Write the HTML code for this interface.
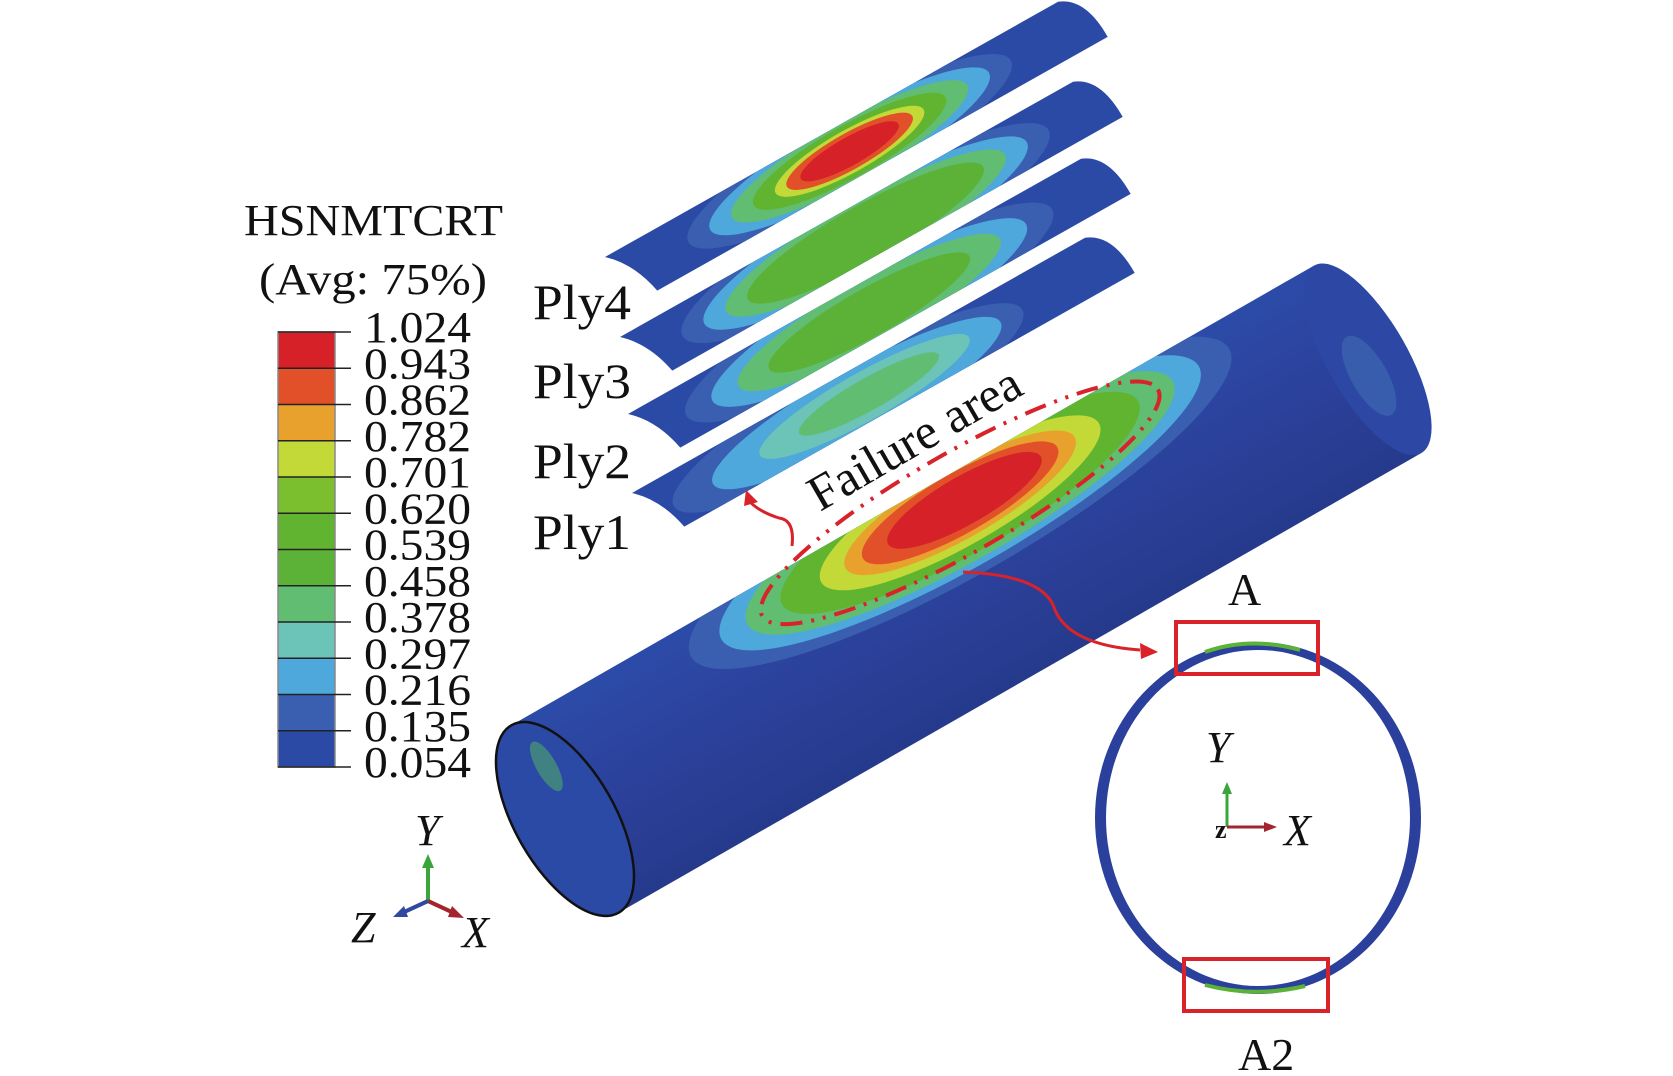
<!DOCTYPE html>
<html><head><meta charset="utf-8"><style>
html,body{margin:0;padding:0;background:#fff;}
svg{display:block;}
text{font-family:"Liberation Serif","Times New Roman",serif;fill:#111;}
</style></head><body>
<svg width="1673" height="1076" viewBox="0 0 1673 1076" xmlns="http://www.w3.org/2000/svg">
<defs>
<linearGradient id="tg" x1="0" y1="0" x2="0" y2="1">
<stop offset="0" stop-color="#2c4ba8"/><stop offset="0.6" stop-color="#2b3f98"/><stop offset="1" stop-color="#263a8c"/>
</linearGradient>
<path id="ply" d="M0,0 L520,0 Q546,10 546,55 L29,55 Q22,20 0,0 Z"/>
<clipPath id="pc"><use href="#ply"/></clipPath>
<clipPath id="tc"><rect x="0" y="-108" width="925" height="216"/></clipPath>
</defs>

<text x="244" y="235" font-size="44" textLength="259" lengthAdjust="spacingAndGlyphs">HSNMTCRT</text>
<text x="259" y="294" font-size="44" textLength="228" lengthAdjust="spacingAndGlyphs">(Avg: 75%)</text>
<g>
<rect x="278" y="332" width="57" height="36.25" fill="#d52127"/>
<rect x="278" y="368.25" width="57" height="36.25" fill="#e2502a"/>
<rect x="278" y="404.5" width="57" height="36.25" fill="#e8a12c"/>
<rect x="278" y="440.75" width="57" height="36.25" fill="#c2d938"/>
<rect x="278" y="477" width="57" height="36.25" fill="#7bbf2e"/>
<rect x="278" y="513.25" width="57" height="36.25" fill="#61b42f"/>
<rect x="278" y="549.5" width="57" height="36.25" fill="#5cb236"/>
<rect x="278" y="585.75" width="57" height="36.25" fill="#61bd71"/>
<rect x="278" y="622" width="57" height="36.25" fill="#6cc3b7"/>
<rect x="278" y="658.25" width="57" height="36.25" fill="#4ea8dc"/>
<rect x="278" y="694.5" width="57" height="36.25" fill="#3a5fb0"/>
<rect x="278" y="730.75" width="57" height="36.25" fill="#2b4aa5"/>
<rect x="278" y="332" width="57" height="435" fill="none" stroke="#888" stroke-width="1.5"/>
<g stroke="#222" stroke-width="1.5">
<line x1="278" y1="332" x2="351" y2="332"/><line x1="278" y1="368.25" x2="351" y2="368.25"/><line x1="278" y1="404.5" x2="351" y2="404.5"/><line x1="278" y1="440.75" x2="351" y2="440.75"/><line x1="278" y1="477" x2="351" y2="477"/><line x1="278" y1="513.25" x2="351" y2="513.25"/><line x1="278" y1="549.5" x2="351" y2="549.5"/><line x1="278" y1="585.75" x2="351" y2="585.75"/><line x1="278" y1="622" x2="351" y2="622"/><line x1="278" y1="658.25" x2="351" y2="658.25"/><line x1="278" y1="694.5" x2="351" y2="694.5"/><line x1="278" y1="730.75" x2="351" y2="730.75"/><line x1="278" y1="767" x2="351" y2="767"/>
</g>
<g font-size="44">
<text x="364" y="342" textLength="107" lengthAdjust="spacingAndGlyphs">1.024</text>
<text x="364" y="378.25" textLength="107" lengthAdjust="spacingAndGlyphs">0.943</text>
<text x="364" y="414.5" textLength="107" lengthAdjust="spacingAndGlyphs">0.862</text>
<text x="364" y="450.75" textLength="107" lengthAdjust="spacingAndGlyphs">0.782</text>
<text x="364" y="487" textLength="107" lengthAdjust="spacingAndGlyphs">0.701</text>
<text x="364" y="523.25" textLength="107" lengthAdjust="spacingAndGlyphs">0.620</text>
<text x="364" y="559.5" textLength="107" lengthAdjust="spacingAndGlyphs">0.539</text>
<text x="364" y="595.75" textLength="107" lengthAdjust="spacingAndGlyphs">0.458</text>
<text x="364" y="632" textLength="107" lengthAdjust="spacingAndGlyphs">0.378</text>
<text x="364" y="668.25" textLength="107" lengthAdjust="spacingAndGlyphs">0.297</text>
<text x="364" y="704.5" textLength="107" lengthAdjust="spacingAndGlyphs">0.216</text>
<text x="364" y="740.75" textLength="107" lengthAdjust="spacingAndGlyphs">0.135</text>
<text x="364" y="777" textLength="107" lengthAdjust="spacingAndGlyphs">0.054</text>
</g>
</g>

<g font-size="50">
<text x="533" y="319" textLength="98" lengthAdjust="spacingAndGlyphs">Ply4</text>
<text x="533" y="398" textLength="98" lengthAdjust="spacingAndGlyphs">Ply3</text>
<text x="533" y="478" textLength="98" lengthAdjust="spacingAndGlyphs">Ply2</text>
<text x="533" y="549" textLength="98" lengthAdjust="spacingAndGlyphs">Ply1</text>
</g>

<g transform="translate(605,257) rotate(-29.4)">
<use href="#ply" fill="#2b4aa5"/>
<g clip-path="url(#pc)">
<ellipse cx="265" cy="28" rx="185" ry="40" fill="#3a5fb0"/>
<ellipse cx="265" cy="28" rx="160" ry="34" fill="#4ea8dc"/>
<ellipse cx="265" cy="28" rx="135" ry="30" fill="#61bd71"/>
<ellipse cx="265" cy="28" rx="110" ry="26" fill="#61b42f"/>
<ellipse cx="265" cy="28" rx="85" ry="21" fill="#c2d938"/>
<ellipse cx="265" cy="28" rx="72" ry="18" fill="#e2502a"/>
<ellipse cx="265" cy="28" rx="56" ry="14" fill="#d52127"/>
</g></g>
<g transform="translate(620,337) rotate(-29.4)">
<use href="#ply" fill="#2b4aa5"/>
<g clip-path="url(#pc)">
<ellipse cx="265" cy="30" rx="210" ry="44" fill="#3a5fb0"/>
<ellipse cx="265" cy="30" rx="185" ry="38" fill="#4ea8dc"/>
<ellipse cx="265" cy="30" rx="160" ry="33" fill="#61bd71"/>
<ellipse cx="265" cy="30" rx="135" ry="28" fill="#5cb236"/>
</g></g>
<g transform="translate(628,414) rotate(-29.4)">
<use href="#ply" fill="#2b4aa5"/>
<g clip-path="url(#pc)">
<ellipse cx="260" cy="30" rx="210" ry="44" fill="#3a5fb0"/>
<ellipse cx="260" cy="30" rx="180" ry="38" fill="#4ea8dc"/>
<ellipse cx="260" cy="30" rx="150" ry="32" fill="#61bd71"/>
<ellipse cx="260" cy="30" rx="115" ry="24" fill="#5cb236"/>
</g></g>
<g transform="translate(632,493) rotate(-29.4)">
<use href="#ply" fill="#2b4aa5"/>
<g clip-path="url(#pc)">
<ellipse cx="230" cy="32" rx="200" ry="42" fill="#3a5fb0"/>
<ellipse cx="240" cy="32" rx="165" ry="34" fill="#4ea8dc"/>
<ellipse cx="250" cy="30" rx="120" ry="24" fill="#6cc3b7"/>
<ellipse cx="255" cy="30" rx="80" ry="16" fill="#61bd71"/>
</g></g>

<g transform="translate(565,819) rotate(-29.8)">
<rect x="0" y="-108" width="925" height="216" fill="url(#tg)"/>
<ellipse cx="925" cy="0" rx="40" ry="108" fill="#2d48a4"/>
<g clip-path="url(#tc)">
<ellipse cx="500" cy="-78" rx="310" ry="72" fill="#3a5fb0"/>
<ellipse cx="500" cy="-78" rx="275" ry="64" fill="#4ea8dc"/>
<ellipse cx="500" cy="-78" rx="245" ry="58" fill="#61bd71"/>
<ellipse cx="500" cy="-78" rx="205" ry="51" fill="#61b42f"/>
<ellipse cx="500" cy="-78" rx="160" ry="42" fill="#c2d938"/>
<ellipse cx="500" cy="-78" rx="132" ry="35" fill="#e8a12c"/>
<ellipse cx="500" cy="-78" rx="112" ry="30" fill="#e2502a"/>
<ellipse cx="505" cy="-78" rx="88" ry="24" fill="#d52127"/>
</g>
<ellipse cx="918" cy="15" rx="18" ry="45" fill="#4a78b8" opacity="0.45"/>
<ellipse cx="0" cy="0" rx="50" ry="108" fill="#2b4aa5" stroke="#111" stroke-width="2.5"/>
<ellipse cx="10" cy="-55" rx="10" ry="28" fill="#4ea86a" opacity="0.6"/>
<ellipse cx="500" cy="-78" rx="228" ry="50" fill="none" stroke="#d8232a" stroke-width="4" stroke-dasharray="22,9,3,9,3,9"/>
</g>

<text x="820" y="512" font-size="50" transform="rotate(-30 820 512)">Failure area</text>

<path d="M792,546 Q795,520 779,518 Q760,512 750,502" fill="none" stroke="#d8232a" stroke-width="3"/>
<polygon points="746,490 758,502 744,506" fill="#d8232a"/>
<path d="M963,572 Q1045,575 1055,610 Q1070,645 1140,650" fill="none" stroke="#d8232a" stroke-width="3"/>
<polygon points="1158,652 1140,643 1141,659" fill="#d8232a"/>

<path fill="#2b3f9c" fill-rule="evenodd" d="M1095,818 A163 176 0 1 0 1421,818 A163 176 0 1 0 1095,818 Z M1106,818 A152 168 0 1 0 1410,818 A152 168 0 1 0 1106,818 Z"/>
<path d="M1205,652 Q1250,636 1300,650" fill="none" stroke="#5cb236" stroke-width="4"/>
<path d="M1205,985 Q1255,998 1305,986" fill="none" stroke="#5cb236" stroke-width="4"/>
<rect x="1176" y="622" width="142" height="52" fill="none" stroke="#d8232a" stroke-width="4"/>
<rect x="1184" y="959" width="144" height="52" fill="none" stroke="#d8232a" stroke-width="4"/>
<text x="1228" y="605" font-size="46">A</text>
<text x="1238" y="1070" font-size="46">A2</text>
<text x="1206" y="762" font-size="44" font-style="italic">Y</text>
<line x1="1227" y1="827" x2="1227" y2="792" stroke="#3aa53a" stroke-width="3"/>
<polygon points="1227,782 1222,794 1232,794" fill="#3aa53a"/>
<line x1="1227" y1="827" x2="1266" y2="827" stroke="#a3262e" stroke-width="3"/>
<polygon points="1277,827 1264,822 1264,832" fill="#a3262e"/>
<text x="1215" y="838" font-size="26" font-weight="bold">z</text>
<text x="1284" y="845" font-size="44" font-style="italic">X</text>

<text x="415" y="845" font-size="44" font-style="italic">Y</text>
<line x1="428" y1="901" x2="428" y2="866" stroke="#3aa53a" stroke-width="4"/>
<polygon points="428,854 422,868 434,868" fill="#3aa53a"/>
<line x1="428" y1="901" x2="456" y2="914" stroke="#a3262e" stroke-width="4"/>
<polygon points="464,918 452,906 448,917" fill="#a3262e"/>
<line x1="428" y1="901" x2="402" y2="913" stroke="#3048a0" stroke-width="4"/>
<polygon points="393,917 404,906 408,917" fill="#3048a0"/>
<text x="351" y="942" font-size="44" font-style="italic">Z</text>
<text x="462" y="947" font-size="44" font-style="italic">X</text>
</svg>
</body></html>
